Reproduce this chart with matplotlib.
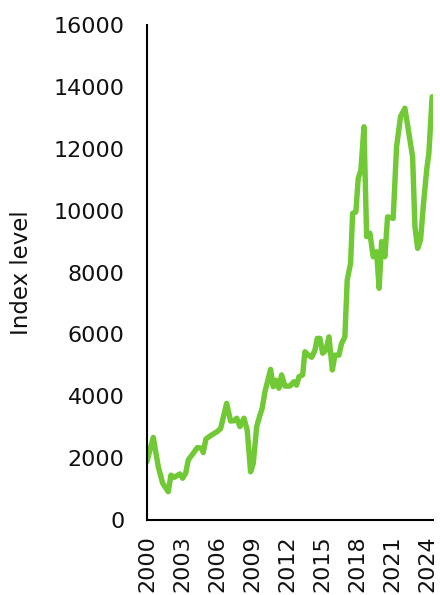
import matplotlib.pyplot as plt

# index level (decimal year, value)
years = [2000.00, 2000.54, 2000.97, 2001.34, 2001.82, 2002.05, 2002.33, 2002.82,
         2003.05, 2003.31, 2003.53, 2003.96, 2004.30, 2004.68, 2004.81, 2005.04,
         2005.53, 2006.01, 2006.30, 2006.81, 2007.15, 2007.46, 2007.67, 2007.95,
         2008.29, 2008.57, 2008.86, 2009.09, 2009.38, 2009.66, 2009.85, 2010.09,
         2010.57, 2010.79, 2011.03, 2011.28, 2011.51, 2011.79, 2012.22, 2012.56,
         2012.79, 2012.99, 2013.31, 2013.50, 2013.79, 2014.08, 2014.36, 2014.56,
         2014.79, 2015.02, 2015.30, 2015.56, 2015.85, 2016.07, 2016.41, 2016.64,
         2016.92, 2017.12, 2017.41, 2017.58, 2017.86, 2018.06, 2018.29, 2018.55,
         2018.78, 2019.06, 2019.34, 2019.63, 2019.85, 2020.06, 2020.34, 2020.57,
         2021.05, 2021.34, 2021.68, 2022.05, 2022.71, 2022.91, 2023.14, 2023.39,
         2023.62, 2023.91, 2024.10, 2024.38]
values = [1890, 2670, 1720, 1190, 915, 1450, 1380, 1490,
          1350, 1510, 1940, 2160, 2340, 2320, 2180, 2620,
          2750, 2860, 2960, 3770, 3200, 3210, 3290, 3020,
          3290, 2910, 1560, 1830, 3020, 3390, 3610, 4150,
          4870, 4310, 4520, 4260, 4690, 4330, 4330, 4470,
          4360, 4630, 4690, 5440, 5330, 5260, 5490, 5870,
          5870, 5390, 5490, 5920, 4850, 5330, 5330, 5710,
          5920, 7760, 8300, 9910, 9960, 11040, 11310, 12710,
          9160, 9270, 8510, 8670, 7490, 9000, 8510, 9800,
          9750, 12070, 13040, 13310, 11740, 9480, 8780, 9050,
          10130, 11310, 11850, 13680]

tick_years = list(range(2000, 2025, 3))

plt.rcParams['font.family'] = ['DejaVu Sans']

fig = plt.figure(figsize=(4.4, 5.95), dpi=100)
ax = fig.add_axes([0.334, 0.126, 0.65, 0.832])

ax.plot(years, values, color='#70c935', linewidth=3.9,
        solid_joinstyle='round', solid_capstyle='round')

ax.set_xlim(2000, 2024.45)
ax.set_ylim(0, 16000)
ax.set_yticks(range(0, 16001, 2000))
ax.set_xticks(tick_years)
ax.set_xticklabels([str(y) for y in tick_years], rotation=90)

ax.spines['top'].set_visible(False)
ax.spines['right'].set_visible(False)
for s in ('left', 'bottom'):
    ax.spines[s].set_linewidth(1.5)
    ax.spines[s].set_color('black')

ax.tick_params(axis='both', length=0, labelsize=16, colors='#111111')
ax.tick_params(axis='y', pad=16)
ax.tick_params(axis='x', pad=11)
ax.set_ylabel('Index level', fontsize=16.5, labelpad=15, color='#111111')

fig.savefig('out.png', dpi=100)
